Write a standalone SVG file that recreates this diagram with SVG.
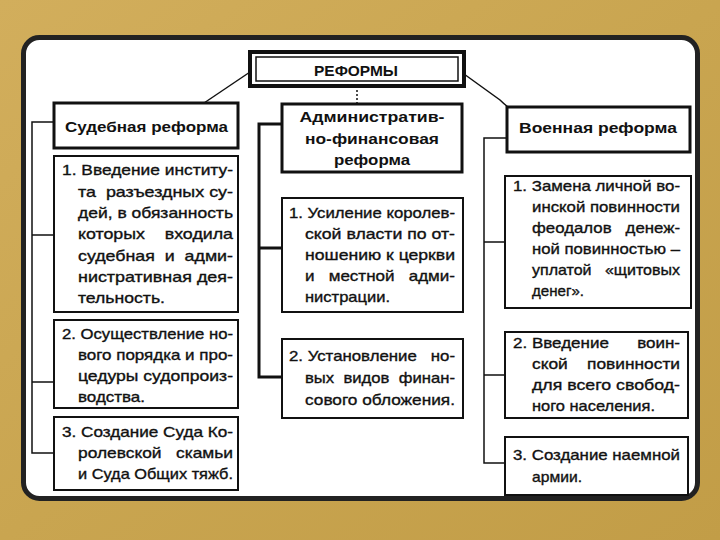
<svg xmlns="http://www.w3.org/2000/svg" width="720" height="540" viewBox="0 0 720 540">
<defs>
<linearGradient id="bg" x1="0" y1="0" x2="1" y2="1">
<stop offset="0" stop-color="#d2ae5c"/>
<stop offset="0.5" stop-color="#c9a550"/>
<stop offset="1" stop-color="#c29d47"/>
</linearGradient>
<style>
.hdr{font-family:"Liberation Sans",Arial,sans-serif;font-weight:bold;font-size:15px;fill:#111}
.t{font-family:"Liberation Sans",Arial,sans-serif;font-size:15px;fill:#111;stroke:#111;stroke-width:0.35;white-space:pre}
.box{fill:#fff;stroke:#111;stroke-width:2}
.hbox{fill:#fff;stroke:#111;stroke-width:3}
.conn{fill:none;stroke:#111;stroke-width:1.5}
.thick{stroke-width:3}
</style>
</defs>
<rect x="0" y="0" width="720" height="540" fill="url(#bg)"/>
<rect x="23.5" y="37.5" width="674" height="461" rx="16" fill="#fff" stroke="#222" stroke-width="5"/>

<g id="connectors">
<path class="conn" d="M250,72 L204,103"/>
<path class="conn" d="M464,74 L500,100 Q504,104 508,107"/>
<path class="conn" d="M357,86 V104" stroke-dasharray="2 2" stroke-width="1"/>
<path class="conn" d="M55,122 H32 V453 H55 M32,235 H55 M32,382 H55"/>
<path class="conn thick" d="M282,124 H259 V377 H282 M259,248 H282"/>
<path class="conn" d="M507,138 H484 V463 H505 M484,242 H505 M484,375 H505"/>
</g>

<g id="reformy">
<rect x="250" y="52" width="214" height="34" fill="#fff" stroke="#111" stroke-width="4"/>
<rect x="256" y="57" width="202" height="24" fill="none" stroke="#111" stroke-width="1.5"/>
<text class="hdr" x="356" y="76" text-anchor="middle" font-size="16" textLength="84" lengthAdjust="spacingAndGlyphs">РЕФОРМЫ</text>
</g>

<g id="sud-header">
<rect class="hbox" x="54" y="103" width="184" height="45"/>
<text class="hdr" x="65" y="132" textLength="163" lengthAdjust="spacingAndGlyphs">Судебная реформа</text>
</g>
<g id="sud-1">
<rect class="box" x="54" y="156" width="184" height="156"/>
<text class="t" x="62" y="175" textLength="171" lengthAdjust="spacingAndGlyphs">1. Введение институ-</text>
<text class="t" x="78" y="197" textLength="155" lengthAdjust="spacingAndGlyphs">та  разъездных су-</text>
<text class="t" x="78" y="218" textLength="155" lengthAdjust="spacingAndGlyphs">дей, в обязанность</text>
<text class="t" x="78" y="239" textLength="155" lengthAdjust="spacingAndGlyphs">которых    входила</text>
<text class="t" x="78" y="261" textLength="155" lengthAdjust="spacingAndGlyphs">судебная  и  адми-</text>
<text class="t" x="78" y="282" textLength="155" lengthAdjust="spacingAndGlyphs">нистративная дея-</text>
<text class="t" x="78" y="303" textLength="87" lengthAdjust="spacingAndGlyphs">тельность.</text>
</g>
<g id="sud-2">
<rect class="box" x="54" y="320" width="184" height="88"/>
<text class="t" x="62" y="339" textLength="171" lengthAdjust="spacingAndGlyphs">2. Осуществление но-</text>
<text class="t" x="78" y="360" textLength="155" lengthAdjust="spacingAndGlyphs">вого порядка и про-</text>
<text class="t" x="78" y="381" textLength="155" lengthAdjust="spacingAndGlyphs">цедуры судопроиз-</text>
<text class="t" x="78" y="402" textLength="67" lengthAdjust="spacingAndGlyphs">водства.</text>
</g>
<g id="sud-3">
<rect class="box" x="54" y="417" width="184" height="73"/>
<text class="t" x="62" y="437" textLength="171" lengthAdjust="spacingAndGlyphs">3. Создание Суда Ко-</text>
<text class="t" x="78" y="458" textLength="155" lengthAdjust="spacingAndGlyphs">ролевской   скамьи</text>
<text class="t" x="78" y="479" textLength="155" lengthAdjust="spacingAndGlyphs">и Суда Общих тяжб.</text>
</g>

<g id="adm-header">
<rect class="hbox" x="282" y="104" width="180" height="68"/>
<text class="hdr" x="372" y="122" text-anchor="middle" textLength="145" lengthAdjust="spacingAndGlyphs">Административ-</text>
<text class="hdr" x="372" y="144" text-anchor="middle" textLength="134" lengthAdjust="spacingAndGlyphs">но-финансовая</text>
<text class="hdr" x="372" y="165" text-anchor="middle" textLength="76" lengthAdjust="spacingAndGlyphs">реформа</text>
</g>
<g id="adm-1">
<rect class="box" x="282" y="198" width="181" height="114"/>
<text class="t" x="289" y="218" textLength="166" lengthAdjust="spacingAndGlyphs">1. Усиление королев-</text>
<text class="t" x="305" y="239" textLength="150" lengthAdjust="spacingAndGlyphs">ской власти по от-</text>
<text class="t" x="305" y="260" textLength="150" lengthAdjust="spacingAndGlyphs">ношению к церкви</text>
<text class="t" x="305" y="281" textLength="150" lengthAdjust="spacingAndGlyphs">и   местной   адми-</text>
<text class="t" x="305" y="302" textLength="85" lengthAdjust="spacingAndGlyphs">нистрации.</text>
</g>
<g id="adm-2">
<rect class="box" x="282" y="339" width="181" height="79"/>
<text class="t" x="289" y="361" textLength="166" lengthAdjust="spacingAndGlyphs">2. Установление   но-</text>
<text class="t" x="305" y="383" textLength="150" lengthAdjust="spacingAndGlyphs">вых  видов  финан-</text>
<text class="t" x="305" y="405" textLength="150" lengthAdjust="spacingAndGlyphs">сового обложения.</text>
</g>

<g id="mil-header">
<rect class="hbox" x="507" y="107" width="183" height="45"/>
<text class="hdr" x="519" y="133" textLength="158" lengthAdjust="spacingAndGlyphs">Военная реформа</text>
</g>
<g id="mil-1">
<rect class="box" x="505" y="176" width="186" height="132"/>
<text class="t" x="513" y="191" textLength="167" lengthAdjust="spacingAndGlyphs">1. Замена личной во-</text>
<text class="t" x="532" y="212" textLength="148" lengthAdjust="spacingAndGlyphs">инской повинности</text>
<text class="t" x="532" y="233" textLength="148" lengthAdjust="spacingAndGlyphs">феодалов   денеж-</text>
<text class="t" x="532" y="254" textLength="148" lengthAdjust="spacingAndGlyphs">ной повинностью –</text>
<text class="t" x="532" y="275" textLength="148" lengthAdjust="spacingAndGlyphs">уплатой   «щитовых</text>
<text class="t" x="532" y="296" textLength="52" lengthAdjust="spacingAndGlyphs">денег».</text>
</g>
<g id="mil-2">
<rect class="box" x="505" y="332" width="183" height="86"/>
<text class="t" x="513" y="348" textLength="167" lengthAdjust="spacingAndGlyphs">2. Введение      воин-</text>
<text class="t" x="532" y="369" textLength="148" lengthAdjust="spacingAndGlyphs">ской    повинности</text>
<text class="t" x="532" y="390" textLength="148" lengthAdjust="spacingAndGlyphs">для всего свобод-</text>
<text class="t" x="532" y="411" textLength="123" lengthAdjust="spacingAndGlyphs">ного населения.</text>
</g>
<g id="mil-3">
<rect class="box" x="505" y="437" width="183" height="58"/>
<text class="t" x="513" y="460" textLength="167" lengthAdjust="spacingAndGlyphs">3. Создание наемной</text>
<text class="t" x="532" y="482" textLength="50" lengthAdjust="spacingAndGlyphs">армии.</text>
</g>
</svg>
